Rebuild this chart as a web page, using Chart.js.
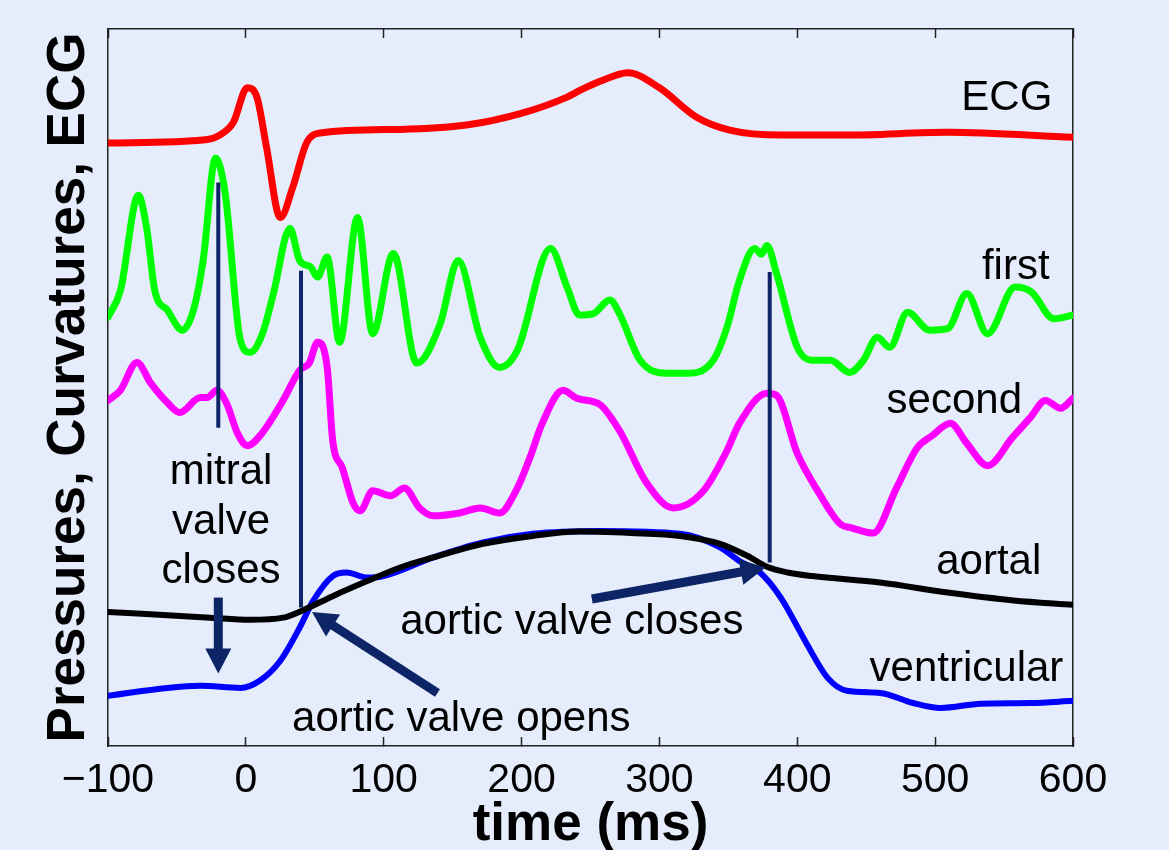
<!DOCTYPE html>
<html>
<head>
<meta charset="utf-8">
<title>Pressures, Curvatures, ECG</title>
<script src="https://cdn.jsdelivr.net/npm/chart.js@4.4.1/dist/chart.umd.min.js"></script>
<style>
  html, body { margin: 0; padding: 0; background: #e5ecfb; }
  canvas { display: block; }
</style>
</head>
<body>
<canvas id="heartChart" width="1169" height="850"></canvas>
<script>
// --- Traces: time in ms, amplitude in arbitrary units (0-100) ---
const ecgTime = [-100, -28, -19, -9, 1, 8, 15, 25, 34, 44, 54, 112, 160, 201, 233, 243, 257, 277, 300, 327, 351, 388, 436, 509, 600];
const ecgVal  = [84.1, 84.6, 85.2, 87.0, 91.8, 90.5, 83.5, 73.7, 77.9, 84.1, 85.5, 86.0, 86.6, 88.3, 90.5, 91.5, 92.7, 93.9, 91.8, 87.7, 85.9, 85.2, 85.2, 85.6, 84.9];

const firstTime = [-100, -91, -78, -72, -66, -57, -46, -38, -31, -22, -15, -4, 3, 12, 20, 32, 39, 47, 52, 59,
                   68, 81, 92, 107, 124, 141, 154, 170, 184, 197, 221, 233, 242, 252, 264, 271, 286, 306, 320, 339,
                   349, 358, 369, 374, 378, 385, 400, 411, 424, 438, 448, 458, 467, 480, 496, 509, 523, 538, 558, 570, 586, 600];
const firstVal  = [59.8, 63.5, 76.8, 72.3, 63.5, 60.8, 58.0, 60.8, 67.7, 82.0, 77.1, 56.6, 54.9, 57.5, 63.1, 72.2, 67.7, 66.8, 65.4, 68.2,
                   56.3, 73.7, 57.5, 68.7, 53.4, 58.9, 67.7, 57.0, 52.8, 55.2, 69.4, 64.0, 60.1, 60.3, 62.2, 60.3, 53.8, 52.0, 52.0, 53.8,
                   58.4, 64.9, 69.4, 68.6, 69.8, 65.9, 55.6, 53.8, 53.8, 52.1, 53.8, 57.0, 55.6, 60.5, 58.0, 58.2, 63.1, 57.5, 64.0, 63.3, 59.6, 60.1];

const secondTime = [-100, -91, -79, -69, -57, -48, -33, -28, -21, -14, -6, 1, 12, 27, 39, 46, 52, 59, 63, 70,
                    78, 83, 92, 105, 115, 126, 136, 155, 170, 184, 197, 206, 215, 230, 240, 257, 271, 291, 310, 332,
                    349, 358, 378, 385, 400, 416, 431, 440, 455, 472, 487, 498, 511, 523, 538, 556, 569, 580, 591, 600];
const secondVal  = [48.2, 49.6, 53.5, 50.6, 47.9, 46.5, 48.6, 48.6, 49.6, 47.8, 43.6, 41.9, 43.7, 48.2, 52.4, 53.4, 56.3, 52.8, 42.6, 38.8,
                    33.8, 32.8, 35.6, 34.9, 36.0, 33.2, 32.1, 32.5, 33.2, 32.5, 36.0, 40.2, 45.0, 49.6, 48.5, 47.6, 44.0, 36.6, 33.2, 35.6,
                    41.2, 45.0, 49.2, 48.9, 40.8, 35.2, 31.0, 30.4, 29.7, 36.0, 41.6, 43.3, 45.0, 42.2, 39.1, 43.0, 45.8, 48.2, 47.1, 48.5];

const aortalTime = [-100, -26, 3, 27, 41, 63, 88, 112, 136, 172, 208, 242, 279, 315, 344, 364, 378, 393, 411, 460, 509, 557, 600];
const aortalVal  = [18.7, 17.9, 17.6, 17.9, 18.9, 20.9, 23.0, 24.9, 26.3, 28.2, 29.3, 29.9, 29.7, 29.3, 28.2, 26.5, 25.0, 24.2, 23.7, 22.8, 21.4, 20.3, 19.7];

const ventTime = [-100, -57, -33, -4, 10, 25, 39, 49, 63, 73, 88, 100, 136, 172, 208, 257, 315, 344, 358, 373, 388, 407, 422, 436, 460, 484, 504, 533, 569, 600];
const ventVal  = [7.0, 8.1, 8.4, 8.1, 9.1, 11.9, 16.5, 20.3, 23.7, 24.2, 23.5, 23.7, 26.3, 28.4, 29.6, 30.0, 29.6, 27.7, 25.8, 24.2, 20.7, 14.2, 9.5, 7.7, 7.4, 6.0, 5.3, 5.9, 6.0, 6.3];

// valve event markers (vertical lines)
const markerTime   = [-20, 40, 380];
const markerTop    = [78.6, 66.3, 66.1];
const markerBottom = [44.4, 19.3, 25.6];

// arrows: tail -> tip
const arrowFromT = [-20, 139, 251];
const arrowFromV = [20.7, 7.4, 20.5];
const arrowToT   = [-20, 48, 377];
const arrowToV   = [10.1, 18.7, 24.9];

const xTicks = [-100, 0, 100, 200, 300, 400, 500, 600];

const labels = [
    { text: 'ECG', t: 585, v: 88.7, align: 'right' },
    { text: 'first', t: 583, v: 65.2, align: 'right' },
    { text: 'second', t: 563, v: 46.4, align: 'right' },
    { text: 'aortal', t: 577, v: 24.0, align: 'right' },
    { text: 'ventricular', t: 593, v: 9.1, align: 'right' },
    { text: 'mitral', t: -18, v: 36.6, align: 'center' },
    { text: 'valve', t: -18, v: 29.6, align: 'center' },
    { text: 'closes', t: -18, v: 22.8, align: 'center' },
    { text: 'aortic valve opens', t: 33.5, v: 2.1, align: 'left' },
    { text: 'aortic valve closes', t: 112, v: 15.6, align: 'left' }
];

// --- styling ---
const FONT = '"Liberation Sans", Arial, Helvetica, sans-serif';
const NAVY = '#0d2466';
const AXIS = '#222222';
const BG = '#e5ecfb';

const trace = (times, vals) => times.map((t, i) => ({ x: t, y: vals[i] }));

function curve(label, times, vals, color, width, order) {
    return {
        label, data: trace(times, vals), borderColor: color, borderWidth: width,
        pointRadius: 0, fill: false, cubicInterpolationMode: 'monotone',
        borderJoinStyle: 'round', borderCapStyle: 'round', order
    };
}

const datasets = [
    curve('ECG', ecgTime, ecgVal, '#ff0000', 7, 5),
    curve('first', firstTime, firstVal, '#00ff00', 7, 4),
    curve('second', secondTime, secondVal, '#ff00ff', 7, 3),
    curve('ventricular', ventTime, ventVal, '#0000ff', 6, 2),
    curve('aortal', aortalTime, aortalVal, '#000000', 6, 1)
];
markerTime.forEach((t, i) => {
    datasets.push({
        label: 'marker' + i,
        data: [{ x: t, y: markerTop[i] }, { x: t, y: markerBottom[i] }],
        borderColor: NAVY, borderWidth: 4, pointRadius: 0, tension: 0, order: 0
    });
});

// --- background, arrows and labels ---
const annotate = {
    id: 'annotate',
    beforeDraw(chart) {
        const { ctx, width, height } = chart;
        ctx.save();
        ctx.fillStyle = BG;
        ctx.fillRect(0, 0, width, height);
        ctx.restore();
    },
    afterDatasetsDraw(chart) {
        const { ctx, scales: { x, y } } = chart;
        ctx.save();
        ctx.fillStyle = NAVY;
        ctx.strokeStyle = NAVY;
        const headLen = 25, headHalf = 13;
        arrowFromT.forEach((t0, i) => {
            const x0 = x.getPixelForValue(t0), y0 = y.getPixelForValue(arrowFromV[i]);
            const x1 = x.getPixelForValue(arrowToT[i]), y1 = y.getPixelForValue(arrowToV[i]);
            const a = Math.atan2(y1 - y0, x1 - x0);
            const c = Math.cos(a), s = Math.sin(a);
            const bx = x1 - headLen * c, by = y1 - headLen * s;
            ctx.lineWidth = 9;
            ctx.lineCap = 'butt';
            ctx.beginPath();
            ctx.moveTo(x0, y0);
            ctx.lineTo(bx + c, by + s);
            ctx.stroke();
            ctx.beginPath();
            ctx.moveTo(x1, y1);
            ctx.lineTo(bx - headHalf * s, by + headHalf * c);
            ctx.lineTo(bx + headHalf * s, by - headHalf * c);
            ctx.closePath();
            ctx.fill();
        });

        ctx.fillStyle = '#000';
        ctx.font = '42px ' + FONT;
        ctx.textBaseline = 'alphabetic';
        labels.forEach(l => {
            ctx.textAlign = l.align;
            ctx.fillText(l.text, x.getPixelForValue(l.t), y.getPixelForValue(l.v));
        });
        ctx.restore();
    }
};

const tickGrid = { drawOnChartArea: false, tickLength: -9, tickColor: AXIS, tickWidth: 1.5 };
const axisBorder = { color: AXIS, width: 1.5 };

new Chart(document.getElementById('heartChart'), {
    type: 'line',
    data: { datasets },
    plugins: [annotate],
    options: {
        responsive: false,
        devicePixelRatio: 1,
        animation: false,
        events: [],
        layout: { padding: 0 },
        plugins: { legend: { display: false }, tooltip: { enabled: false } },
        scales: {
            x: {
                type: 'linear', position: 'bottom', min: -100, max: 600,
                afterBuildTicks: s => { s.ticks = xTicks.map(v => ({ value: v })); },
                ticks: {
                    color: '#000', padding: 19, maxRotation: 0, autoSkip: false,
                    font: { family: FONT, size: 41 },
                    callback: v => String(v).replace('-', '\u2212')
                },
                grid: tickGrid,
                border: axisBorder,
                title: {
                    display: true, text: 'time (ms)', color: '#000',
                    font: { family: FONT, size: 53, weight: 'bold', lineHeight: 1 },
                    padding: { top: 0, bottom: -2 }
                },
                afterFit: s => { s.height = 104; }
            },
            xTop: {
                type: 'linear', position: 'top', min: -100, max: 600,
                afterBuildTicks: s => { s.ticks = xTicks.map(v => ({ value: v })); },
                ticks: { display: false },
                grid: tickGrid,
                border: axisBorder,
                afterFit: s => { s.height = 29; }
            },
            y: {
                type: 'linear', position: 'left', min: 0, max: 100,
                ticks: { display: false },
                grid: { display: false },
                border: axisBorder,
                title: {
                    display: true, text: 'Pressures, Curvatures, ECG', color: '#000',
                    font: { family: FONT, size: 53, weight: 'bold', lineHeight: 1 },
                    padding: { top: 43, bottom: 0 }
                },
                afterFit: s => { s.width = 108; }
            },
            yRight: {
                type: 'linear', position: 'right', min: 0, max: 100,
                ticks: { display: false },
                grid: { display: false },
                border: axisBorder,
                afterFit: s => { s.width = 96; }
            }
        }
    }
});
</script>
</body>
</html>
